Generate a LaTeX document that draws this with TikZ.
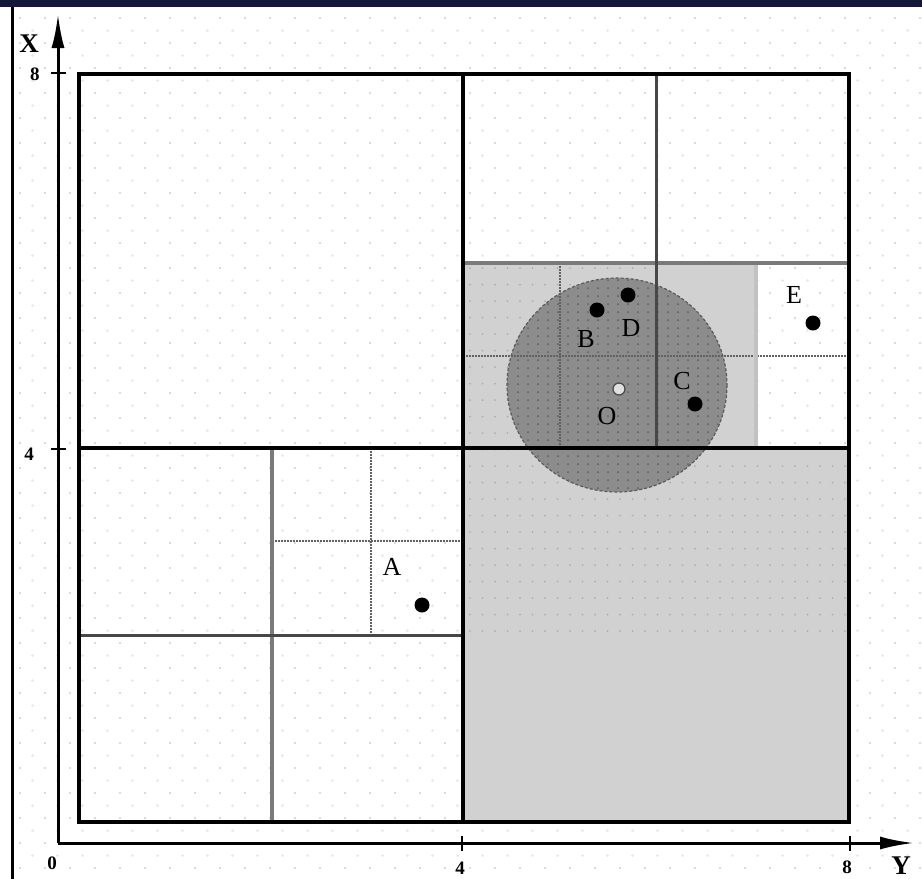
\documentclass[tikz,border=0pt]{standalone}
\usepackage{fontspec}
\setmainfont{Liberation Serif}
\usetikzlibrary{arrows.meta}
\definecolor{navybar}{HTML}{15163A}
\begin{document}
\begin{tikzpicture}[x=1pt,y=-1pt,
  heavy/.style={line width=3.6pt,black},
  midgray/.style={line width=3.4pt,black!52},
  darkgray/.style={line width=3pt,black!72},
  palegray/.style={line width=4.5pt,black!24},
  dotline/.style={line width=1.4pt,black!62,dash pattern=on 1.5pt off 1.5pt},
  axisline/.style={line width=3pt,black,-{Latex[length=34pt,width=13pt]}},
  shadebox/.style={fill=black!18},
  pointdot/.style={circle,fill=black,inner sep=0pt,minimum size=15pt},
  opendot/.style={circle,fill=black!12,draw=black!70,line width=1.3pt,inner sep=0pt,minimum size=12pt},
  ptlabel/.style={font=\fontsize{26}{26}\selectfont,inner sep=0pt},
  ticklabel/.style={font=\bfseries\fontsize{19}{19}\selectfont,inner sep=0pt},
  axislabel/.style={font=\bfseries\fontsize{27}{27}\selectfont,inner sep=0pt}
]
\useasboundingbox (0,0) rectangle (922,879);
\fill[white] (0,0) rectangle (922,879);
% faint background dot grid
\foreach \i in {0,...,36} {
  \foreach \j in {0,...,34} {
    \fill[black!28] (20+25*\i,18+25*\j) circle (0.9);
    \fill[black!9] (32.5+25*\i,30.5+25*\j) circle (1.5);
  }
}
% shaded regions
\fill[shadebox] (463,448) rectangle (849,822);
\fill[shadebox] (463,263) rectangle (756,448);
\foreach \i in {0,...,15} {
  \foreach \j in {0,...,22} {
    \fill[black!32] (470+12.5*\i,268+16.5*\j) circle (1.0);
  }
}
\foreach \i in {16,...,30} {
  \foreach \j in {12,...,22} {
    \fill[black!32] (470+12.5*\i,268+16.5*\j) circle (1.0);
  }
}
% query circle
\filldraw[fill=black!45,draw=black!65,line width=1.2pt,densely dashed] (617,385) ellipse [x radius=110, y radius=107];
\begin{scope}
\clip (617,385) ellipse [x radius=109, y radius=106];
\foreach \i in {0,...,22} {
  \foreach \j in {0,...,27} {
    \fill[black!62] (508+10*\i,280+8*\j) circle (1.0);
  }
}
\end{scope}
% fine dotted subdivisions
\draw[dotline] (560,263) -- (560,448);
\draw[dotline] (463,356) -- (849,356);
\draw[dotline] (371,448) -- (371,635);
\draw[dotline] (272,541) -- (463,541);
% medium subdivisions
\draw[palegray] (756,263) -- (756,448);
\draw[midgray] (463,263) -- (849,263);
\draw[darkgray] (656,74) -- (656,448);
\draw[midgray] (272,448) -- (272,822);
\draw[darkgray] (79,635) -- (463,635);
% main split lines and outer box
\draw[heavy] (463,74) -- (463,822);
\draw[heavy] (79,448) -- (849,448);
\draw[heavy] (79,74) rectangle (849,822);
% axes
\coordinate (origin) at (58,843);
\coordinate (xtip) at (58,14);
\coordinate (ytip) at (914,843);
\draw[axisline] (origin) -- (xtip);
\draw[axisline] (origin) -- (ytip);
\draw[line width=1.2pt] (51,73) -- (66,73);
\draw[line width=1.2pt] (51,449) -- (66,449);
\draw[line width=1.2pt] (462,836) -- (462,851);
\draw[line width=1.2pt] (850,836) -- (850,851);
% axis labels
\node[axislabel] (labX) at (29,44) {X};
\node[axislabel] (labY) at (901,866) {Y};
\node[ticklabel] (t8x) at (35,74) {8};
\node[ticklabel] (t4x) at (29,454) {4};
\node[ticklabel] (t0) at (52,863) {0};
\node[ticklabel] (t4y) at (460,868) {4};
\node[ticklabel] (t8y) at (847,867) {8};
% window frame
\fill[navybar] (0,0) rectangle (922,7);
\fill[black] (11,7) rectangle (13.5,879);
% points
\node[pointdot] (A) at (422,605) {};
\node[pointdot] (B) at (597,310) {};
\node[pointdot] (D) at (628,295) {};
\node[pointdot] (C) at (695,404) {};
\node[pointdot] (E) at (813,323) {};
\node[opendot] (O) at (619,389) {};
\node[ptlabel] (lA) at (392,567) {A};
\node[ptlabel] (lB) at (586,339) {B};
\node[ptlabel] (lD) at (631,328) {D};
\node[ptlabel] (lC) at (682,381) {C};
\node[ptlabel] (lO) at (607,416) {O};
\node[ptlabel] (lE) at (794,295) {E};
\end{tikzpicture}
\end{document}
